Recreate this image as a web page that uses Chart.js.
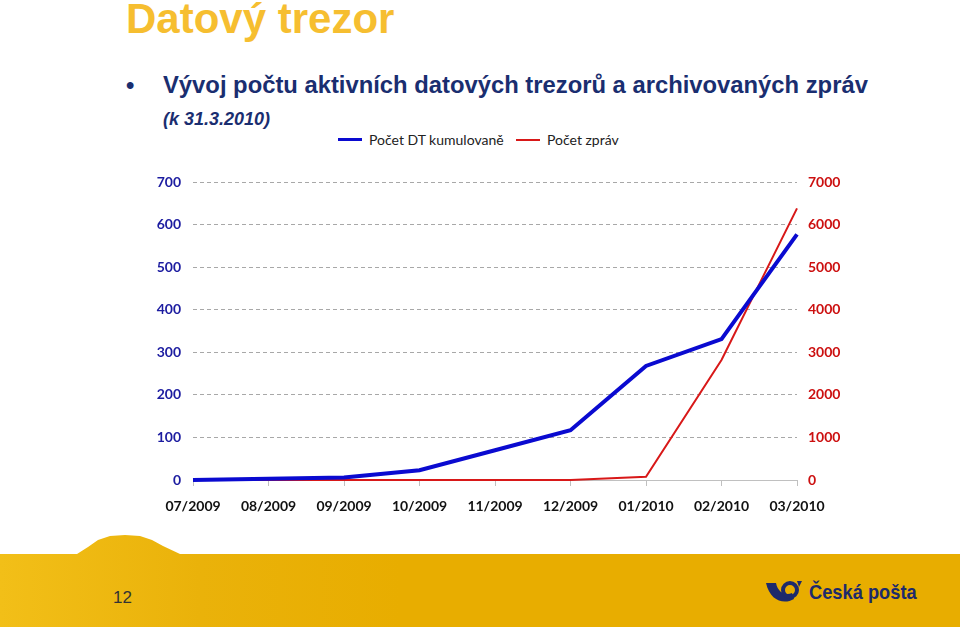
<!DOCTYPE html>
<html lang="cs">
<head>
<meta charset="UTF-8">
<title>Datový trezor</title>
<script src="https://cdn.jsdelivr.net/npm/chart.js"></script>
<style>
    body {
        margin: 0;
        width: 960px;
        height: 635px;
        overflow: hidden;
        background: #fff;
        position: relative;
        font-family: 'Liberation Sans', Arial, sans-serif;
    }
    .title {
        position: absolute;
        left: 126px;
        top: -2px;
        font-size: 42px;
        line-height: 42px;
        font-weight: bold;
        color: #f6be30;
    }
    .bullet {
        position: absolute;
        left: 126px;
        top: 71px;
        font-size: 23.8px;
        font-weight: bold;
        color: #1a2e70;
        white-space: nowrap;
    }
    .bullet span { position: absolute; left: 37px; }
    .sub {
        position: absolute;
        left: 163px;
        top: 109px;
        font-size: 18px;
        font-weight: bold;
        font-style: italic;
        color: #1a2e70;
    }
    .legend {
        position: absolute;
        top: 131px;
        font-family: Lato, sans-serif;
        font-size: 14px;
        color: #222;
        white-space: nowrap;
    }
    .legend i {
        display: inline-block;
        width: 24px;
        vertical-align: middle;
        margin-right: 7px;
        margin-top: -3px;
    }
    #wrap {
        position: absolute;
        left: 0;
        top: 160px;
        width: 960px;
        height: 365px;
    }
    .band {
        position: absolute;
        left: 0;
        top: 534px;
        width: 960px;
        height: 93px;
        background: linear-gradient(90deg, #f2bf18 0px, #eab20a 200px, #e8ad00 400px);
        clip-path: polygon(0 20px, 77px 20px, 88px 13px, 98px 6px, 110px 2px, 125px 1px, 140px 2px, 152px 6px, 163px 12px, 180px 20px, 960px 20px, 960px 93px, 0 93px);
    }
    .page {
        position: absolute;
        left: 113px;
        top: 588px;
        font-size: 17px;
        color: #333;
    }
    .logo {
        position: absolute;
        left: 766px;
        top: 580px;
        color: #1d2a6b;
        font-weight: bold;
        font-size: 21px;
        white-space: nowrap;
    }
    .logo svg { vertical-align: -4px; margin-right: 6px; }
    .logo span { display: inline-block; transform: scaleX(0.87); transform-origin: left center; }
</style>
</head>
<body>
<div class="title">Datový trezor</div>
<div class="bullet">•<span>Vývoj počtu aktivních datových trezorů a archivovaných zpráv</span></div>
<div class="sub">(k 31.3.2010)</div>
<div class="legend" style="left:338px"><i style="border-top:3px solid #0a0ad0"></i>Počet DT kumulovaně</div>
<div class="legend" style="left:516px"><i style="border-top:2px solid #d81818"></i>Počet zpráv</div>
<div id="wrap"><canvas id="chart"></canvas></div>
<div class="band"></div>
<div class="page">12</div>
<div class="logo"><svg width="37" height="22" viewBox="0 0 37 22">
    <path d="M0 2 L10 2 C12 12 20 15 26 12 L28 18 C18 24 4 20 0 2 Z" fill="#1d2a6b"/>
    <circle cx="24" cy="9" r="7" fill="none" stroke="#1d2a6b" stroke-width="4"/>
    <path d="M31 0 L36 0 L33 6 Z" fill="#1d2a6b"/>
</svg><span>Česká pošta</span></div>
<script>
const months = ['07/2009', '08/2009', '09/2009', '10/2009', '11/2009', '12/2009', '01/2010', '02/2010', '03/2010'];
const dtCumulative = [0, 3, 6, 23, 70, 117, 268, 331, 577];
const messages = [0, 0, 0, 0, 0, 0, 78, 2820, 6380];
const leftTicks = [0, 100, 200, 300, 400, 500, 600, 700];
const rightTicks = [0, 1000, 2000, 3000, 4000, 5000, 6000, 7000];

const tickFont = {family: 'Lato', size: 14, weight: 'bold'};

new Chart(document.getElementById('chart'), {
    type: 'line',
    data: {
        labels: months,
        datasets: [
            {label: 'Počet DT kumulovaně', data: dtCumulative, yAxisID: 'y', clip: false,
             borderColor: '#0a0ad0', borderWidth: 4, pointRadius: 0, tension: 0},
            {label: 'Počet zpráv', data: messages, yAxisID: 'y1', clip: false,
             borderColor: '#d81818', borderWidth: 2, pointRadius: 0, tension: 0}
        ]
    },
    options: {
        responsive: true,
        maintainAspectRatio: false,
        animation: false,
        layout: {padding: {top: 22, left: 0, right: 0, bottom: 0}},
        plugins: {legend: {display: false}, tooltip: {enabled: false}},
        scales: {
            x: {
                offset: false,
                grid: {drawOnChartArea: false, drawTicks: true, tickLength: 6, color: '#c0c0c0'},
                border: {display: true, color: '#c0c0c0'},
                ticks: {color: '#111', font: tickFont, padding: 12, maxRotation: 0, autoSkip: false},
                afterFit: s => { s.height = 45; }
            },
            y: {
                position: 'left',
                min: 0, max: 700,
                afterBuildTicks: s => { s.ticks = leftTicks.map(v => ({value: v})); },
                grid: {
                    color: c => c.tick && c.tick.value === 0 ? 'rgba(0,0,0,0)' : '#a8a8a8',
                    drawTicks: false
                },
                border: {display: false, dash: [4, 3]},
                ticks: {color: '#1c1ca0', font: tickFont, padding: 12, callback: v => String(v)},
                afterFit: s => { s.width = 193; }
            },
            y1: {
                position: 'right',
                min: 0, max: 7000,
                afterBuildTicks: s => { s.ticks = rightTicks.map(v => ({value: v})); },
                grid: {drawOnChartArea: false, drawTicks: false},
                border: {display: false},
                ticks: {color: '#cc1010', font: tickFont, padding: 11, callback: v => String(v)},
                afterFit: s => { s.width = 163; }
            }
        }
    }
});
</script>
</body>
</html>
